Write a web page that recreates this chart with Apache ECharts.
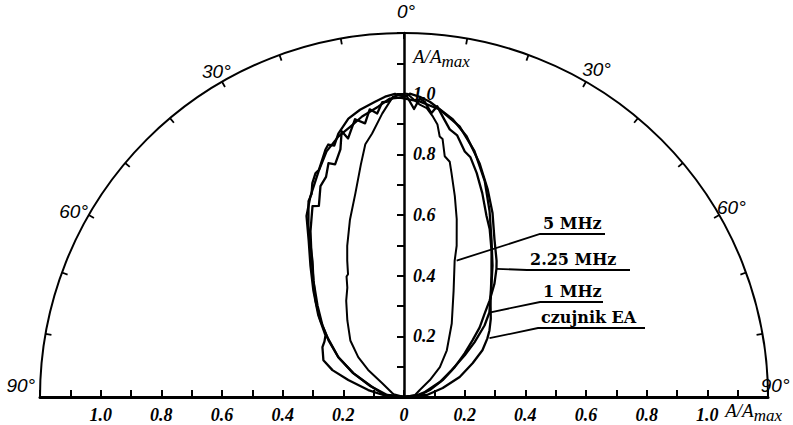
<!DOCTYPE html>
<html>
<head>
<meta charset="utf-8">
<script src="https://cdn.jsdelivr.net/npm/echarts@6/dist/echarts.min.js"></script>
<style>
  html, body { margin: 0; padding: 0; background: #fff; }
  #chart { width: 793px; height: 425px; }
</style>
</head>
<body>
<div id="chart"></div>
<script>
// Directivity patterns: [angle in degrees from the axis, relative amplitude A/Amax]
const pattern5MHz = [
  [-90, 0], [-75, 0.035], [-71.6, 0.041], [-57.5, 0.086], [-53, 0.148], [-49, 0.200],
  [-43.5, 0.257], [-36.5, 0.314], [-31, 0.37], [-27.4, 0.406], [-25.5, 0.44], [-24.5, 0.445],
  [-22.6, 0.487], [-20.6, 0.532], [-17, 0.61], [-13.4, 0.691], [-10.5, 0.78], [-8.7, 0.843],
  [-6.9, 0.875], [-4.4, 0.937], [-2.1, 0.991], [0, 1.0], [0.6, 1.0], [3.1, 0.965],
  [4.5, 0.955], [5.9, 0.929], [7.0, 0.905], [7.8, 0.867], [8.5, 0.86], [9.6, 0.805],
  [11, 0.79], [12.0, 0.754], [14.2, 0.683], [16.5, 0.612], [19.2, 0.528], [20.4, 0.479],
  [25.0, 0.387], [33.0, 0.289], [42.5, 0.209], [50.2, 0.154], [56.8, 0.102], [66, 0.057],
  [80, 0.037], [90, 0]
];
const pattern225MHz = [
  [-90, 0], [-84, 0.063], [-72.6, 0.110], [-64.8, 0.185], [-58.8, 0.253], [-52.1, 0.320],
  [-47.5, 0.374], [-42.5, 0.432], [-37.9, 0.486], [-33.9, 0.541], [-31.7, 0.586], [-29.2, 0.646],
  [-26.0, 0.718], [-24.5, 0.735], [-23.2, 0.767], [-21.6, 0.793], [-20.5, 0.80], [-17.6, 0.856],
  [-16.7, 0.869], [-15.5, 0.86], [-14.0, 0.895], [-11.3, 0.936], [-8.7, 0.958], [-5.6, 0.978],
  [-3.6, 0.992], [-1.7, 1.0], [0, 0.99], [1.1, 1.0], [3.0, 0.991], [5.0, 0.977], [7.7, 0.950],
  [10.0, 0.929], [13.5, 0.884], [17.9, 0.810], [21.9, 0.739], [25.7, 0.673], [29.8, 0.600],
  [34.2, 0.543], [35.8, 0.521], [38.6, 0.478], [41.6, 0.425], [44.0, 0.383], [47.4, 0.339],
  [50.4, 0.293], [54.2, 0.247], [59.5, 0.194], [66.4, 0.139], [75, 0.088], [83, 0.053], [90, 0]
];
const pattern1MHz = [
  [-90, 0], [-83, 0.056], [-72, 0.117], [-64.8, 0.185], [-58.8, 0.253], [-53.1, 0.311],
  [-48.7, 0.358], [-43.4, 0.415], [-37.9, 0.486], [-33.2, 0.557], [-29.4, 0.628], [-25.6, 0.698],
  [-24, 0.69], [-21.6, 0.748], [-19.5, 0.77], [-17.9, 0.810], [-16.5, 0.80], [-14.4, 0.843],
  [-13.2, 0.90], [-12.2, 0.872], [-10, 0.93], [-8.1, 0.911], [-6.8, 0.955], [-5.4, 0.939],
  [-4.2, 0.975], [-3.3, 0.975], [-1.1, 0.997], [0.6, 0.99], [2, 0.95], [3, 0.985], [4.0, 0.976],
  [5.5, 0.94], [6.5, 0.965], [8, 0.93], [9.7, 0.895], [11.5, 0.88], [13.9, 0.834], [15.5, 0.82],
  [18.0, 0.776], [21, 0.72], [24.5, 0.656], [27.0, 0.622], [30.9, 0.562], [35.8, 0.493],
  [40, 0.445], [45.3, 0.396], [48.4, 0.355], [52.2, 0.294], [55.5, 0.243], [60.6, 0.180],
  [67.4, 0.128], [76.6, 0.071], [85, 0.036], [90, 0]
];
const patternSensorEA = [
  [-90, 0], [-84.6, 0.069], [-79, 0.120], [-73.1, 0.192], [-69.4, 0.252], [-65.5, 0.292],
  [-58.6, 0.315], [-55, 0.32], [-51.9, 0.329], [-46.4, 0.390], [-40.4, 0.461], [-35.5, 0.531],
  [-31.4, 0.603], [-28.3, 0.678], [-25.0, 0.730], [-20.7, 0.796], [-17.5, 0.849], [-14.1, 0.886],
  [-11.2, 0.909], [-8.5, 0.935], [-5.1, 0.961], [-2.7, 0.985], [-0.8, 0.987], [0.2, 0.984],
  [3.1, 0.975], [7.1, 0.955], [11.6, 0.911], [16.0, 0.843], [20.5, 0.760], [24.7, 0.675],
  [29.3, 0.590], [34.0, 0.522], [41.9, 0.427], [48, 0.385], [52.1, 0.357], [54.9, 0.336],
  [59.2, 0.301], [63.8, 0.252], [70.3, 0.195], [77.0, 0.131], [85, 0.076], [90, 0]
];

const seriesNames = ['5 MHz', '2.25 MHz', '1 MHz', 'czujnik EA'];
const seriesPatterns = [pattern5MHz, pattern225MHz, pattern1MHz, patternSensorEA];
// point on each curve where its label's leader line starts: [angle, amplitude]
const leaderAnchors = [[21.1, 0.482], [35.8, 0.521], [45.3, 0.396], [55.5, 0.342]];

// tick labels
const baseTickValues = [-1.0, -0.8, -0.6, -0.4, -0.2, 0, 0.2, 0.4, 0.6, 0.8, 1.0];
const baseTickLabels = ['1.0', '0.8', '0.6', '0.4', '0.2', '0', '0.2', '0.4', '0.6', '0.8', '1.0'];
const radialTickValues = [0.2, 0.4, 0.6, 0.8, 1.0];
const radialTickLabels = ['0.2', '0.4', '0.6', '0.8', '1.0'];
const angleTickValues = [-90, -60, -30, 0, 30, 60, 90];
const angleTickLabels = ['90°', '60°', '30°', '0°', '30°', '60°', '90°'];
const axisUnit = 'A/A';
const axisUnitSub = 'max';

// layout
const CX = 404, CY = 397, R = 364, RMAX = 1.2;
const ANGLE_LABEL_R = 1.25;
// nudges (px) of each degree label from its point on the label ring
const angleLabelNudges = [[-4, -12], [-2, 4], [2, 3], [2, -6], [3, 1], [-1, 0], [-8, -12]];
const labelBoxes = [ // underline: x start, y, x end
  [540, 234, 605], [527, 270, 630], [540, 302, 603], [538, 328, 645]
];

const BLACK = '#000';
const tickFont = { fontFamily: 'Liberation Serif', fontStyle: 'italic', fontWeight: 'bold', fontSize: 18, color: BLACK };

function lookupLabel(values, labels, v) {
  const i = values.findIndex(t => Math.abs(t - v) < 1e-6);
  return i < 0 ? '' : labels[i];
}

const chart = echarts.init(document.getElementById('chart'), null, { renderer: 'svg' });

const curveSeries = seriesPatterns.map((p, i) => ({
  type: 'line',
  name: seriesNames[i],
  coordinateSystem: 'polar',
  polarIndex: 0,
  data: p.map(d => [d[1], d[0]]),
  showSymbol: false,
  symbol: 'none',
  smooth: false,
  silent: true,
  lineStyle: { color: BLACK, width: i === 0 ? 2 : 2.3, join: 'round', cap: 'round' },
  z: 3
}));

// degree labels sit on a ring just outside the arc
const angleLabelSeries = {
  type: 'scatter',
  coordinateSystem: 'polar',
  polarIndex: 0,
  clip: false,
  symbolSize: 1,
  itemStyle: { color: 'rgba(0,0,0,0)', opacity: 1 },
  silent: true,
  data: angleTickValues.map((a, i) => ({
    value: [ANGLE_LABEL_R, a],
    label: { position: [0.5 + angleLabelNudges[i][0], 0.5 + angleLabelNudges[i][1]] }
  })),
  label: {
    show: true,
    align: 'center',
    verticalAlign: 'middle',
    formatter: p => angleTickLabels[p.dataIndex],
    fontFamily: 'Liberation Sans',
    fontStyle: 'italic',
    fontSize: 19,
    color: BLACK,
    opacity: 1
  },
  labelLayout: { hideOverlap: false },
  z: 4
};

const option = {
  animation: false,
  backgroundColor: '#fff',
  polar: { center: [CX, CY], radius: R },
  angleAxis: {
    type: 'value', min: -90, max: 90, interval: 10,
    startAngle: 180, endAngle: 0, clockwise: true,
    axisLine: { show: true, lineStyle: { color: BLACK, width: 2 } },
    axisTick: { show: true, inside: true, length: 6, lineStyle: { color: BLACK, width: 1.8 } },
    axisLabel: { show: false },
    splitLine: { show: false }
  },
  radiusAxis: {
    type: 'value', min: 0, max: RMAX,
    axisLine: { show: false }, axisTick: { show: false },
    axisLabel: { show: false }, splitLine: { show: false }
  },
  grid: {
    left: CX - R, top: CY - R, width: 2 * R, height: R,
    containLabel: false, outerBoundsMode: 'none'
  },
  xAxis: {
    type: 'value', min: -RMAX, max: RMAX, interval: 0.2,
    axisLine: { onZero: false, lineStyle: { color: BLACK, width: 3 } },
    axisTick: { inside: true, length: 7, lineStyle: { color: BLACK, width: 2 } },
    minorTick: { show: true, splitNumber: 2, length: 7, lineStyle: { color: BLACK, width: 2 } },
    axisLabel: Object.assign({ margin: 9, formatter: v => lookupLabel(baseTickValues, baseTickLabels, v) }, tickFont),
    splitLine: { show: false }, minorSplitLine: { show: false }
  },
  yAxis: {
    type: 'value', min: 0, max: RMAX, interval: 0.2,
    position: 'left', offset: -R,
    axisLine: { onZero: false, lineStyle: { color: BLACK, width: 2.5 } },
    axisTick: { inside: false, length: 7, lineStyle: { color: BLACK, width: 2 } },
    minorTick: { show: true, splitNumber: 2, length: 7, lineStyle: { color: BLACK, width: 2 } },
    axisLabel: Object.assign({ inside: true, margin: 9, padding: [0, 0, 7, 0], formatter: v => lookupLabel(radialTickValues, radialTickLabels, v) }, tickFont),
    splitLine: { show: false }, minorSplitLine: { show: false }
  },
  series: curveSeries.concat([angleLabelSeries])
};

chart.setOption(option);

// annotations: axis unit captions and the leader lines naming each curve
const unitRich = {
  a: { fontFamily: 'Liberation Serif', fontStyle: 'italic', fontSize: 19, lineHeight: 20, color: BLACK, verticalAlign: 'top' },
  b: { fontFamily: 'Liberation Serif', fontStyle: 'italic', fontSize: 17, lineHeight: 16, color: BLACK, verticalAlign: 'top', padding: [6, 0, 0, 0] }
};
const unitText = '{a|' + axisUnit + '}{b|' + axisUnitSub + '}';
const vertUnitPos = chart.convertToPixel({ gridIndex: 0 }, [0, 1.1]);
const baseUnitPos = chart.convertToPixel({ gridIndex: 0 }, [RMAX, 0]);

const graphics = [
  { type: 'text', x: vertUnitPos[0] + 9, y: vertUnitPos[1] - 16, silent: true,
    style: { text: unitText, rich: unitRich, align: 'left', verticalAlign: 'top' } },
  { type: 'text', x: baseUnitPos[0] + 14, y: baseUnitPos[1] + 4, silent: true,
    style: { text: unitText, rich: unitRich, align: 'right', verticalAlign: 'top' } }
];

seriesNames.forEach((name, i) => {
  const a = chart.convertToPixel({ seriesIndex: i }, [leaderAnchors[i][1], leaderAnchors[i][0]]);
  const box = labelBoxes[i];
  graphics.push({
    type: 'polyline', silent: true, z: 5,
    shape: { points: [a, [box[0], box[1]], [box[2], box[1]]] },
    style: { stroke: BLACK, lineWidth: 1.8, fill: 'none' }
  });
  graphics.push({
    type: 'text', silent: true, z: 5,
    x: box[0] + 3, y: box[1] - 3,
    style: {
      text: name, fill: BLACK, align: 'left', verticalAlign: 'bottom',
      font: 'bold 16px "DejaVu Serif"'
    }
  });
});

chart.setOption({ graphic: graphics });
</script>
</body>
</html>
